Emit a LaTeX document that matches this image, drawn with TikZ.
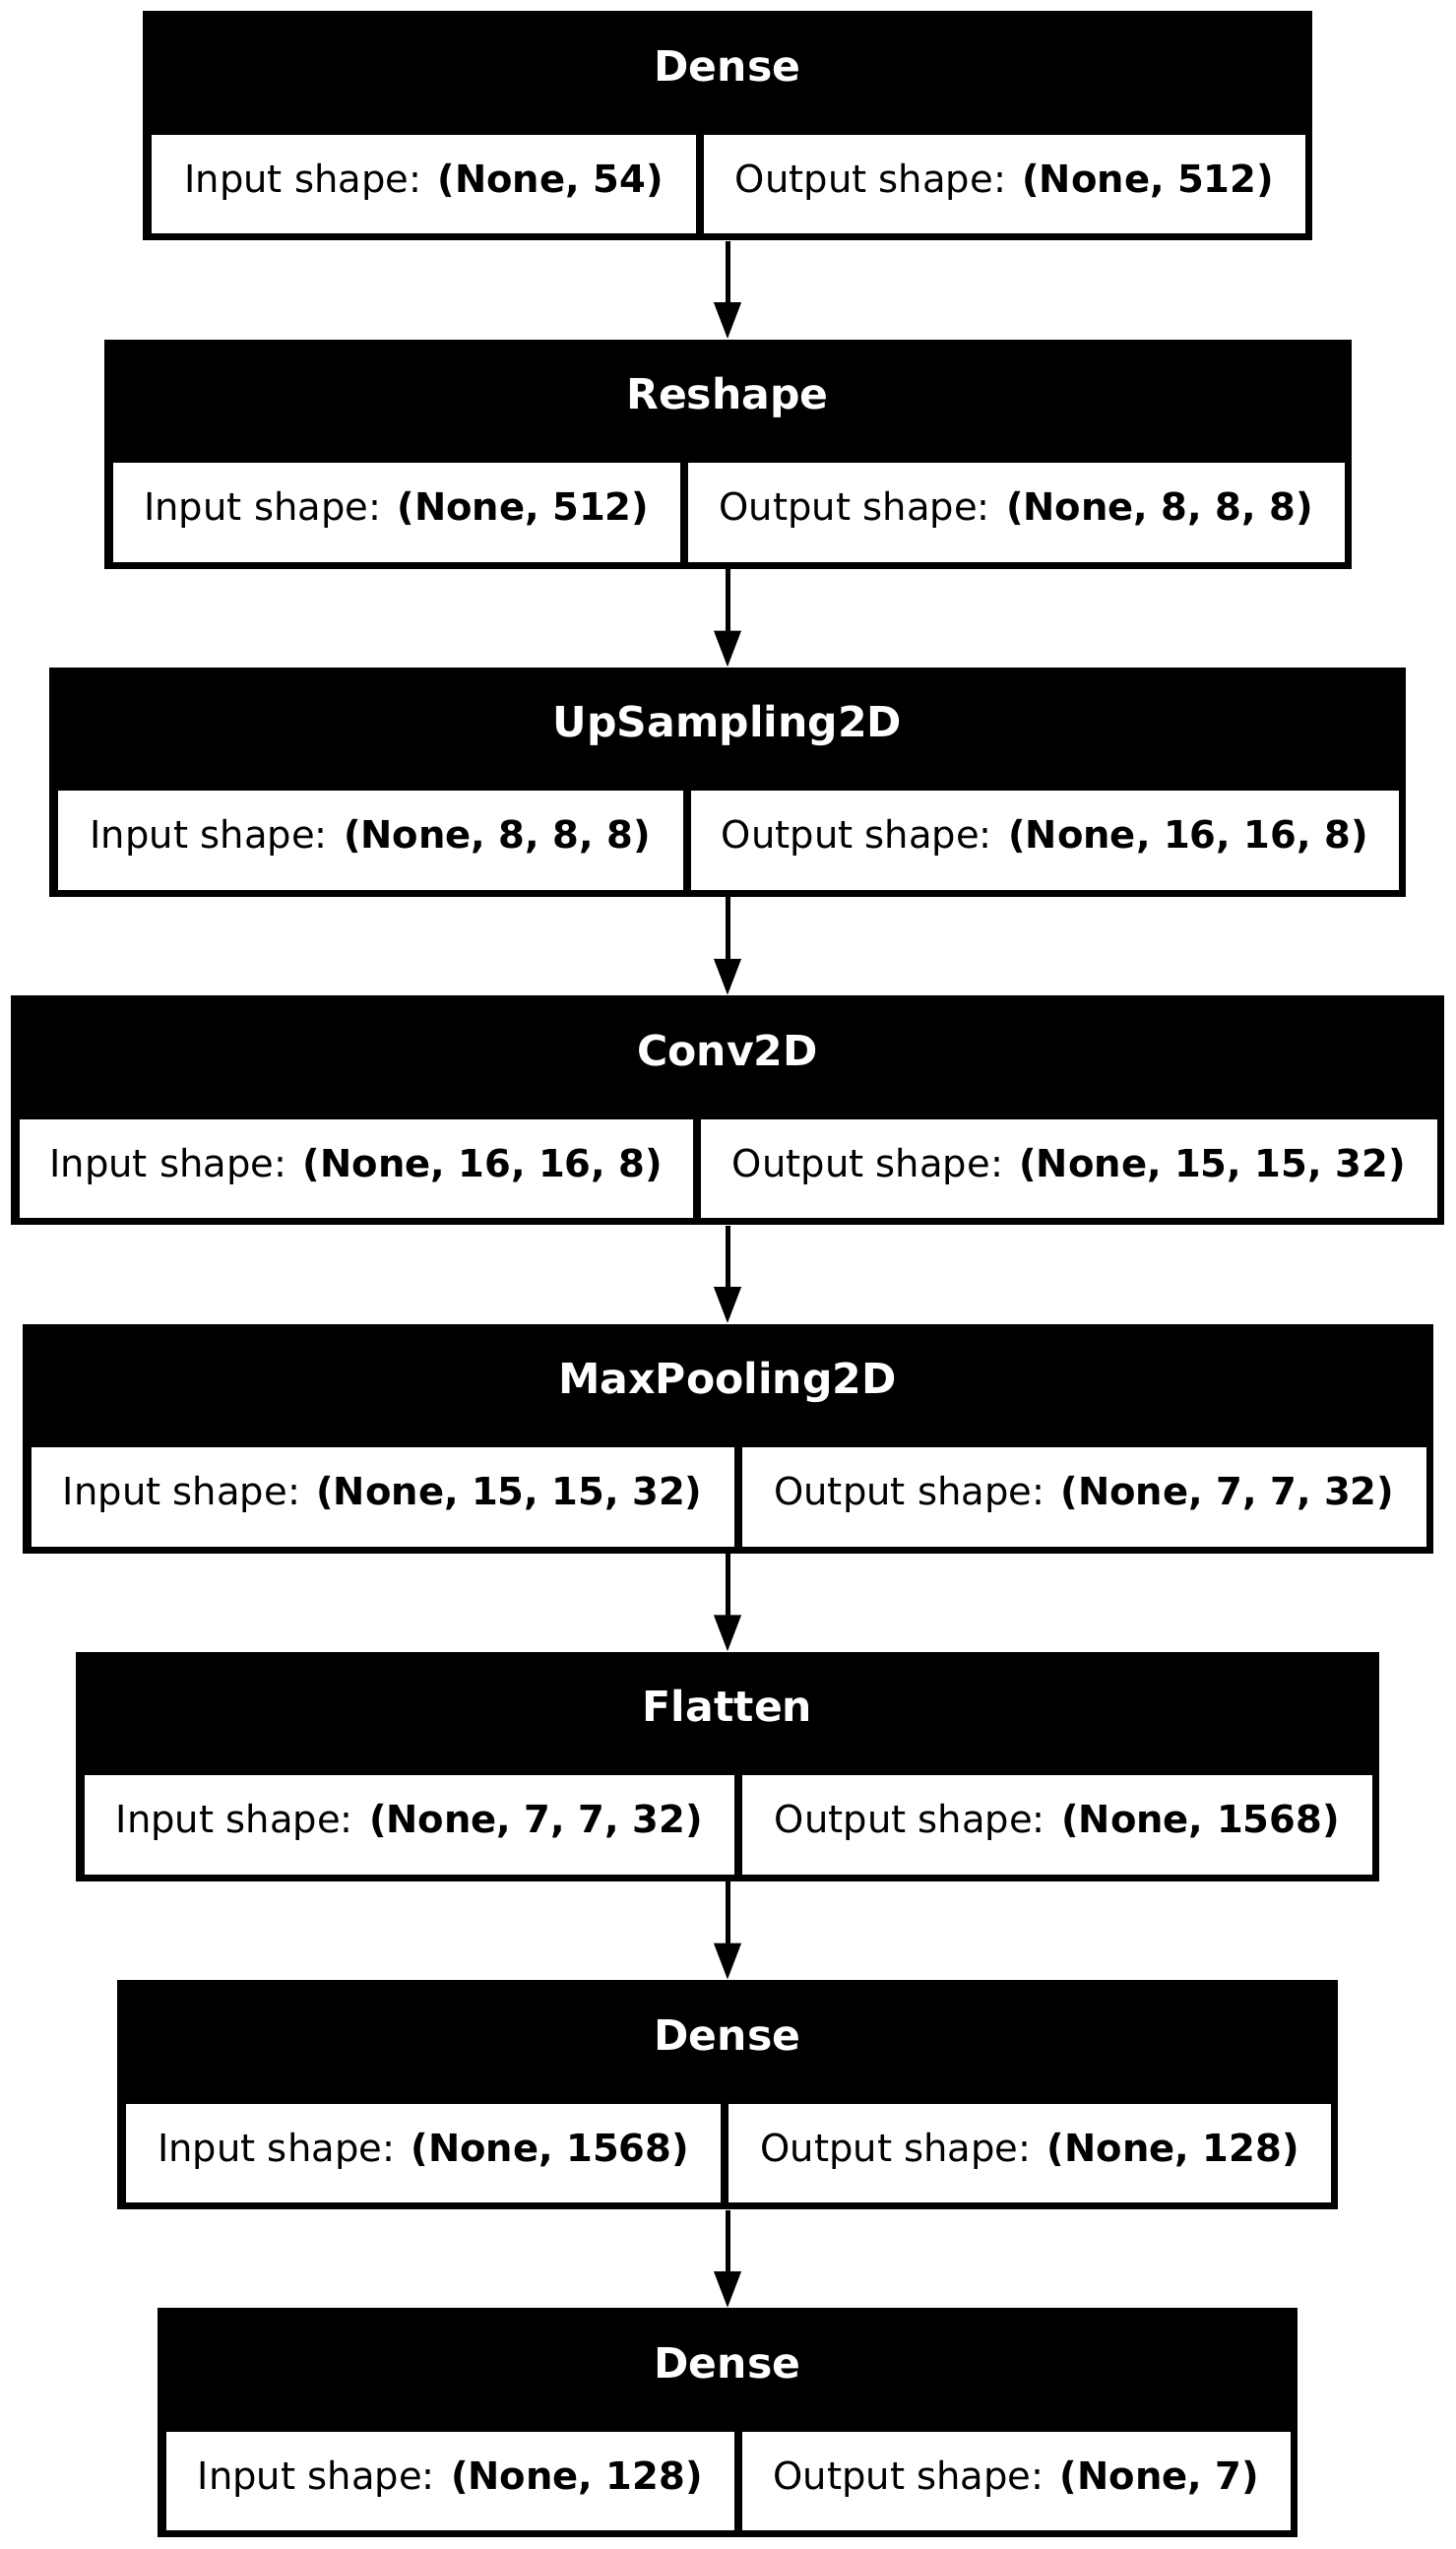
\documentclass[tikz,border=0pt]{standalone}
\usepackage{fontspec}
\setmainfont{DejaVu Sans}
\usetikzlibrary{arrows.meta}
\tikzset{
 outerbox/.style={rectangle, fill=black, draw=none, inner sep=0pt, minimum height=116.5pt},
 cellbox/.style={rectangle, fill=white, draw=none, inner sep=0pt, minimum height=50.25pt},
 layertitle/.style={text=white, font=\fontsize{21.3}{25}\selectfont\bfseries, inner sep=0pt, anchor=base},
 celltext/.style={text=black, font=\fontsize{19.25}{23}\selectfont, inner sep=0pt, anchor=base},
 flow/.style={line width=2.5pt, -{Triangle[length=18.5pt, width=13.3pt]}}
}
\newcommand{\kerasLayer}[7]{%
 \pgfmathsetmacro\KXl{739-#3}%
 \pgfmathsetmacro\KXr{739+#3}%
 \pgfmathsetmacro\KLw{(#4-4)-(\KXl+9)}%
 \pgfmathsetmacro\KRw{(\KXr-7)-(#4+4)}%
 \pgfmathsetmacro\KLc{((#4-4)+(\KXl+9))/2}%
 \pgfmathsetmacro\KRc{((\KXr-7)+(#4+4))/2}%
 \node[outerbox, minimum width={#3*1pt}] (#1) at (739,#2+116.5) {};
 \node[cellbox, minimum width={\KLw*0.5pt}] (#1-in) at (\KLc,#2+175.75) {};
 \node[cellbox, minimum width={\KRw*0.5pt}] (#1-out) at (\KRc,#2+175.75) {};
 \node[layertitle] (#1-t) at (739,#2+71) {#5};
 \node[celltext] (#1-it) at (\KLc,#2+184) {Input shape: \textbf{#6}};
 \node[celltext] (#1-ot) at (\KRc,#2+184) {Output shape: \textbf{#7}};
}
\begin{document}
\begin{tikzpicture}[x=0.5pt,y=-0.5pt]
\useasboundingbox[fill=white] (0,0) rectangle (1478,2589);
\kerasLayer{d1}{11.3}{594}{711}{Dense}{(None, 54)}{(None, 512)}
\kerasLayer{rs}{344.6}{633.5}{695}{Reshape}{(None, 512)}{(None, 8, 8, 8)}
\kerasLayer{up}{677.9}{689}{697.5}{UpSampling2D}{(None, 8, 8, 8)}{(None, 16, 16, 8)}
\kerasLayer{cv}{1011.2}{728}{707.5}{Conv2D}{(None, 16, 16, 8)}{(None, 15, 15, 32)}
\kerasLayer{mp}{1344.5}{716.5}{750}{MaxPooling2D}{(None, 15, 15, 32)}{(None, 7, 7, 32)}
\kerasLayer{fl}{1677.8}{662}{749.5}{Flatten}{(None, 7, 7, 32)}{(None, 1568)}
\kerasLayer{d2}{2011.1}{620}{736}{Dense}{(None, 1568)}{(None, 128)}
\kerasLayer{d3}{2344.4}{579}{749.5}{Dense}{(None, 128)}{(None, 7)}
\draw[flow] (d1.south) -- (rs.north);
\draw[flow] (rs.south) -- (up.north);
\draw[flow] (up.south) -- (cv.north);
\draw[flow] (cv.south) -- (mp.north);
\draw[flow] (mp.south) -- (fl.north);
\draw[flow] (fl.south) -- (d2.north);
\draw[flow] (d2.south) -- (d3.north);
\end{tikzpicture}
\end{document}
